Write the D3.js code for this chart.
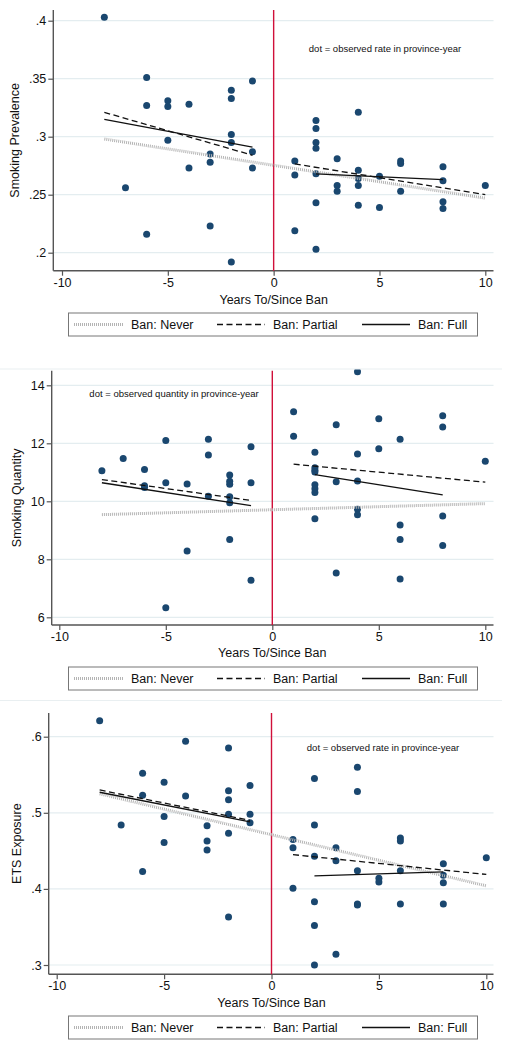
<!DOCTYPE html>
<html><head><meta charset="utf-8">
<script src="https://cdn.jsdelivr.net/npm/d3@7"></script>
<style>
html,body{margin:0;padding:0;background:#fff;}
svg{display:block;font-family:"Liberation Sans",Arial,Helvetica,sans-serif;}
</style></head>
<body>
<svg id="c" width="507" height="1050"></svg>
<script>
// ---------------- DATA ----------------
const xTicks = [-10, -5, 0, 5, 10];
const xTickLabels = ["-10", "-5", "0", "5", "10"];
const xTitle = "Years To/Since Ban";
const legendLabels = ["Ban: Never", "Ban: Partial", "Ban: Full"];

// Panel 1: Smoking prevalence
const prevTitle = "Smoking Prevalence";
const prevNote = "dot = observed rate in province-year";
const prevTicks = [0.2, 0.25, 0.3, 0.35, 0.4];
const prevTickLabels = [".2", ".25", ".3", ".35", ".4"];
const prevYears = [-8,-7,-6,-6,-6,-5,-5,-5,-4,-4,-3,-3,-3,-2,-2,-2,-2,-2,-1,-1,-1,
  1,1,1,2,2,2,2,2,2,2,3,3,3,4,4,4,4,4,5,5,6,6,6,8,8,8,8,10];
const prevValues = [0.403,0.256,0.351,0.327,0.216,0.331,0.326,0.297,0.328,0.273,0.285,0.278,0.223,
  0.340,0.333,0.302,0.295,0.192,0.348,0.287,0.273,
  0.279,0.267,0.219,0.314,0.307,0.295,0.290,0.268,0.243,0.203,0.281,0.258,0.253,
  0.321,0.271,0.264,0.258,0.241,0.266,0.239,0.279,0.277,0.253,0.274,0.262,0.244,0.238,0.258];
// fitted lines: [x1, y1, x2, y2]
const prevNever = [[-8, 0.298, 10, 0.247]];
const prevPartial = [[-8, 0.321, -1, 0.284], [1, 0.2765, 10, 0.250]];
const prevFull = [[-8, 0.315, -1, 0.291], [2, 0.268, 8, 0.263]];

// Panel 2: Smoking quantity
const qtyTitle = "Smoking Quantity";
const qtyNote = "dot = observed quantity in province-year";
const qtyTicks = [6, 8, 10, 12, 14];
const qtyTickLabels = ["6", "8", "10", "12", "14"];
const qtyYears = [-8,-7,-6,-6,-6,-5,-5,-5,-4,-4,-3,-3,-3,-2,-2,-2,-2,-2,-2,-1,-1,-1,
  1,1,2,2,2,2,2,2,2,2,3,3,3,4,4,4,4,4,5,5,6,6,6,6,8,8,8,8,10];
const qtyValues = [11.05,11.48,11.10,10.54,10.48,12.10,10.64,6.33,10.60,8.29,12.14,11.60,10.17,
  10.91,10.69,10.59,10.16,9.95,8.68,11.88,10.64,7.28,
  13.09,12.24,11.69,11.16,11.07,11.01,10.57,10.43,10.30,9.40,12.64,10.67,7.53,
  14.47,11.63,10.70,9.73,9.54,12.85,11.81,12.14,9.18,8.68,7.32,12.95,12.56,9.49,8.48,11.38];
const qtyNever = [[-8, 9.54, 10, 9.92]];
const qtyPartial = [[-8, 10.75, -1, 10.03], [1, 11.28, 10, 10.66]];
const qtyFull = [[-8, 10.64, -1, 9.85], [2, 10.92, 8, 10.22]];

// Panel 3: ETS exposure
const etsTitle = "ETS Exposure";
const etsNote = "dot = observed rate in province-year";
const etsTicks = [0.3, 0.4, 0.5, 0.6];
const etsTickLabels = [".3", ".4", ".5", ".6"];
const etsYears = [-8,-7,-6,-6,-6,-5,-5,-5,-4,-4,-3,-3,-3,-2,-2,-2,-2,-2,-2,-1,-1,-1,
  1,1,1,2,2,2,2,2,2,3,3,3,4,4,4,4,4,5,5,6,6,6,6,8,8,8,8,10];
const etsValues = [0.621,0.484,0.552,0.523,0.423,0.540,0.495,0.461,0.594,0.522,0.483,0.463,0.451,
  0.585,0.529,0.517,0.498,0.473,0.363,0.536,0.498,0.487,
  0.465,0.454,0.401,0.545,0.484,0.443,0.383,0.352,0.300,0.454,0.437,0.314,
  0.560,0.528,0.424,0.380,0.379,0.414,0.409,0.467,0.463,0.424,0.380,0.433,0.418,0.408,0.380,0.441];
const etsNever = [[-8, 0.525, 10, 0.404]];
const etsPartial = [[-8, 0.530, -1, 0.490], [1, 0.445, 10, 0.419]];
const etsFull = [[-8, 0.527, -1, 0.488], [2, 0.417, 8, 0.4225]];

// ---------------- LAYOUT ----------------
const panels = [
  {title: prevTitle, note: prevNote, ticks: prevTicks, tickLabels: prevTickLabels,
   years: prevYears, values: prevValues, never: prevNever, partial: prevPartial, full: prevFull,
   xRange: [62, 485.3], yDom: [0.2, 0.4], yRange: [252.7, 20.7], top: 10, bottom: 270.7, axisX: 53.3,
   noteX: 385, noteY: 52, xTitleY: 304, yTitleX: 19, legendY: 313, clipTop: 0, clipBottom: 345},
  {title: qtyTitle, note: qtyNote, ticks: qtyTicks, tickLabels: qtyTickLabels,
   years: qtyValues.map((_, i) => qtyYears[i]), values: qtyValues, never: qtyNever, partial: qtyPartial, full: qtyFull,
   xRange: [59.3, 485.3], yDom: [6, 14], yRange: [617.3, 385.3], top: 370.7, bottom: 625, axisX: 51.7,
   noteX: 174, noteY: 397, xTitleY: 657, yTitleX: 21, legendY: 667, clipTop: 369.5, clipBottom: 699},
  {title: etsTitle, note: etsNote, ticks: etsTicks, tickLabels: etsTickLabels,
   years: etsYears, values: etsValues, never: etsNever, partial: etsPartial, full: etsFull,
   xRange: [56.7, 486.3], yDom: [0.3, 0.6], yRange: [965, 736.7], top: 713, bottom: 974.3, axisX: 48.7,
   noteX: 383, noteY: 751, xTitleY: 1007, yTitleX: 21, legendY: 1016, clipTop: 701, clipBottom: 1050}
];
const rightEdge = 493.5;
const dotColor = "#1a476f";
const gridColor = "#e4edf0";
const axisColor = "#555";
const redColor = "#d0103a";

const svg = d3.select("#c");
const defs = svg.append("defs");

// faint panel frames
svg.append("line").attr("x1", 0).attr("x2", 502).attr("y1", 369).attr("y2", 369)
  .attr("stroke", "#e9eff1").attr("stroke-width", 1);
svg.append("line").attr("x1", 0).attr("x2", 502).attr("y1", 700.5).attr("y2", 700.5)
  .attr("stroke", "#e9eff1").attr("stroke-width", 1);

function lineStyle(sel, kind) {
  if (kind === "never") sel.attr("stroke", "#b4b4b4").attr("stroke-width", 3).attr("stroke-dasharray", "1,1");
  else if (kind === "partial") sel.attr("stroke", "#111").attr("stroke-width", 1.3).attr("stroke-dasharray", "6,3.5");
  else sel.attr("stroke", "#111").attr("stroke-width", 1.3);
  return sel;
}

panels.forEach((p, pi) => {
  const x = d3.scaleLinear().domain([-10, 10]).range(p.xRange);
  const y = d3.scaleLinear().domain(p.yDom).range(p.yRange);
  const g = svg.append("g");

  defs.append("clipPath").attr("id", "clip" + pi).append("rect")
    .attr("x", 0).attr("y", p.clipTop).attr("width", 502).attr("height", p.clipBottom - p.clipTop);

  // gridlines
  g.append("g").selectAll("line").data(p.ticks).join("line")
    .attr("x1", p.axisX).attr("x2", rightEdge)
    .attr("y1", d => y(d)).attr("y2", d => y(d))
    .attr("stroke", gridColor).attr("stroke-width", 1.2);

  // y axis
  const yAxis = d3.axisLeft(y).tickValues(p.ticks).tickSize(5)
    .tickFormat((d, i) => p.tickLabels[i]);
  const ya = g.append("g").attr("transform", `translate(${p.axisX},0)`).call(yAxis);
  ya.select(".domain").remove();
  ya.append("line").attr("x1", 0).attr("x2", 0).attr("y1", p.top).attr("y2", p.bottom)
    .attr("stroke", axisColor).attr("stroke-width", 1.4);
  ya.selectAll(".tick line").attr("stroke", axisColor).attr("stroke-width", 1.2);
  ya.selectAll(".tick text").attr("font-size", 12.5).attr("fill", "#111")
    .attr("font-family", "Liberation Sans, Arial, sans-serif").attr("x", -7);

  // x axis
  const xAxis = d3.axisBottom(x).tickValues(xTicks).tickSize(5)
    .tickFormat((d, i) => xTickLabels[i]);
  const xa = g.append("g").attr("transform", `translate(0,${p.bottom})`).call(xAxis);
  xa.select(".domain").remove();
  xa.append("line").attr("x1", p.axisX).attr("x2", rightEdge).attr("y1", 0).attr("y2", 0)
    .attr("stroke", axisColor).attr("stroke-width", 1.4);
  xa.selectAll(".tick line").attr("stroke", axisColor).attr("stroke-width", 1.2);
  xa.selectAll(".tick text").attr("font-size", 12.5).attr("fill", "#111")
    .attr("font-family", "Liberation Sans, Arial, sans-serif").attr("y", 7);

  // axis titles
  g.append("text").attr("x", (x(0))).attr("y", p.xTitleY).attr("text-anchor", "middle")
    .attr("font-size", 12.5).attr("fill", "#111").text(xTitle);
  const yMid = (p.top + p.bottom) / 2;
  g.append("text").attr("transform", `translate(${p.yTitleX},${yMid}) rotate(-90)`)
    .attr("text-anchor", "middle").attr("font-size", 12.5).attr("fill", "#111").text(p.title);

  // red vertical line at 0
  g.append("line").attr("x1", x(0)).attr("x2", x(0)).attr("y1", p.top).attr("y2", p.bottom)
    .attr("stroke", redColor).attr("stroke-width", 1.4);

  // note
  g.append("text").attr("x", p.noteX).attr("y", p.noteY).attr("text-anchor", "middle")
    .attr("font-size", 9.5).attr("fill", "#111").text(p.note);

  const cg = g.append("g").attr("clip-path", `url(#clip${pi})`);
  // points
  cg.append("g").selectAll("circle").data(p.values).join("circle")
    .attr("cx", (d, i) => x(p.years[i])).attr("cy", d => y(d)).attr("r", 3.5)
    .attr("fill", dotColor);

  // fitted lines
  [["never", p.never], ["partial", p.partial], ["full", p.full]].forEach(([k, segs]) => {
    lineStyle(cg.append("g").selectAll("line").data(segs).join("line")
      .attr("x1", d => x(d[0])).attr("y1", d => y(d[1]))
      .attr("x2", d => x(d[2])).attr("y2", d => y(d[3])), k);
  });

  // legend
  const lg = g.append("g").attr("transform", `translate(0,${p.legendY})`);
  lg.append("rect").attr("x", 68.5).attr("y", 0).attr("width", 409).attr("height", 23)
    .attr("fill", "#fff").attr("stroke", "#777").attr("stroke-width", 1);
  const items = [
    {k: "never", x1: 74, x2: 123, tx: 131},
    {k: "partial", x1: 217, x2: 265, tx: 273},
    {k: "full", x1: 362, x2: 410, tx: 418}
  ];
  items.forEach((it, i) => {
    lineStyle(lg.append("line").attr("x1", it.x1).attr("x2", it.x2).attr("y1", 11.5).attr("y2", 11.5), it.k);
    lg.append("text").attr("x", it.tx).attr("y", 16).attr("font-size", 12.5).attr("fill", "#111")
      .text(legendLabels[i]);
  });
});
</script>
</body></html>
